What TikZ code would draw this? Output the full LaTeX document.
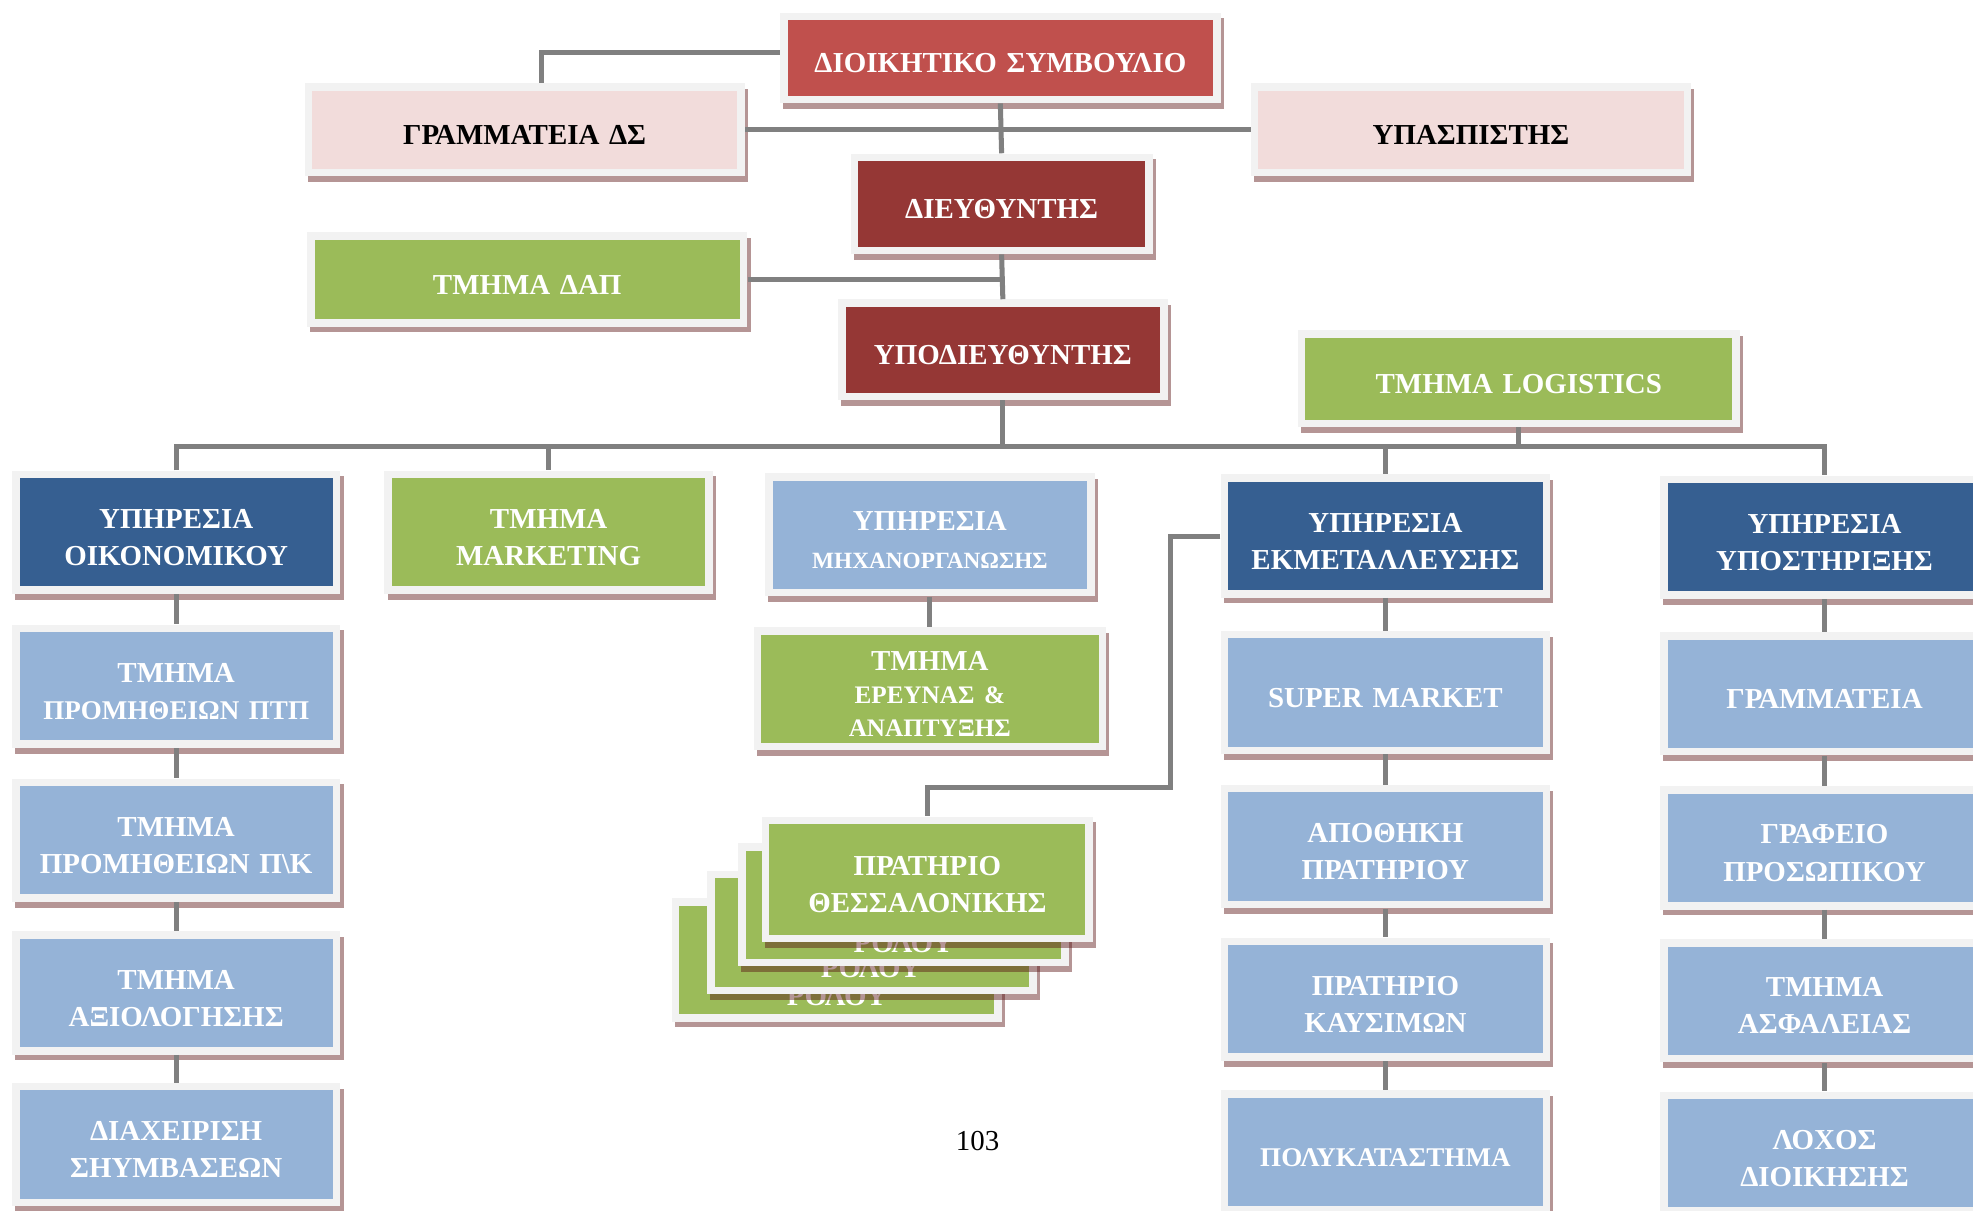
\documentclass[tikz,border=0pt]{standalone}
\usepackage{fontspec}
\setmainfont{Liberation Serif}
\usetikzlibrary{positioning,shadows}

\definecolor{framegray}{RGB}{242,242,242}
\definecolor{shadowred}{RGB}{90,20,20}
\definecolor{linegray}{RGB}{128,128,128}
\definecolor{boardred}{RGB}{192,80,77}
\definecolor{headred}{RGB}{149,55,53}
\definecolor{palepink}{RGB}{242,220,219}
\definecolor{deptgreen}{RGB}{155,187,89}
\definecolor{servblue}{RGB}{54,95,145}
\definecolor{unitblue}{RGB}{149,179,215}

\newcommand{\chartfont}{\fontsize{23}{29.5}\selectfont\bfseries}
\newcommand{\smallchart}{\fontsize{18.5}{24}\selectfont}

\tikzset{
  chart/.style={rectangle, fill=framegray, inner sep=0pt, align=center,
    font=\chartfont, text=white, text width=220pt,
    execute at begin node={\rule{0pt}{23.5pt}},
    drop shadow={shadow xshift=2.5pt, shadow yshift=-4.5pt, fill=shadowred, opacity=.45}},
  core/.style={path picture={\fill[#1]
      ([shift={(6pt,6pt)}]path picture bounding box.south west) rectangle
      ([shift={(-6pt,-6pt)}]path picture bounding box.north east);}},
  topbox/.style={chart, minimum width=350pt, minimum height=74pt, text width=330pt},
  unitbox/.style={chart, minimum width=261pt, minimum height=98pt, text width=245pt},
  rolou/.style={font=\chartfont, text=white, anchor=base, inner sep=0pt},
  link/.style={draw=linegray, line width=4pt},
}

\begin{document}
\begin{tikzpicture}[x=1pt,y=1pt]
  \useasboundingbox (0,0) rectangle (1568,-962);

  % top of the chart
  \node (board) [topbox, core=boardred, minimum height=72pt] at (795,-46)
        {ΔΙΟΙΚΗΤΙΚΟ ΣΥΜΒΟΥΛΙΟ};
  \node (secr) [topbox, core=palepink, text=black] at (417,-103)
        {ΓΡΑΜΜΑΤΕΙΑ ΔΣ};
  \node (aide) [topbox, core=palepink, text=black] at (1169,-103)
        {ΥΠΑΣΠΙΣΤΗΣ};
  \node (dir) [chart, core=headred, minimum width=240pt, minimum height=80pt] at (796,-162)
        {ΔΙΕΥΘΥΝΤΗΣ};
  \node (dap) [topbox, core=deptgreen, minimum height=75pt] at (419,-222)
        {ΤΜΗΜΑ ΔΑΠ};
  \node (vice) [chart, core=headred, minimum width=262pt, minimum height=80pt, text width=245pt] at (797,-278)
        {ΥΠΟΔΙΕΥΘΥΝΤΗΣ};
  \node (logi) [topbox, core=deptgreen, minimum width=351pt, minimum height=77pt] at (1207,-301)
        {ΤΜΗΜΑ LOGISTICS};

  % services
  \node (econ) [unitbox, core=servblue] at (140,-423)
        {ΥΠΗΡΕΣΙΑ\\ΟΙΚΟΝΟΜΙΚΟΥ};
  \node (mkt) [unitbox, core=deptgreen] at (436,-423)
        {ΤΜΗΜΑ\\MARKETING};
  \node (mech) [unitbox, core=unitblue, minimum width=262pt] at (739,-425)
        {ΥΠΗΡΕΣΙΑ\\{\smallchart ΜΗΧΑΝΟΡΓΑΝΩΣΗΣ}};
  \node (oper) [unitbox, core=servblue, minimum width=262pt] at (1101,-426)
        {ΥΠΗΡΕΣΙΑ\\ΕΚΜΕΤΑΛΛΕΥΣΗΣ};
  \node (supp) [unitbox, core=servblue] at (1450,-427)
        {ΥΠΗΡΕΣΙΑ\\ΥΠΟΣΤΗΡΙΞΗΣ};

  % finance column
  \node (ptp) [unitbox, core=unitblue, below=24pt of econ]
        {ΤΜΗΜΑ\\{\fontsize{21.5}{26}\selectfont ΠΡΟΜΗΘΕΙΩΝ ΠΤΠ}};
  \node (pk) [unitbox, core=unitblue, below=24pt of ptp]
        {ΤΜΗΜΑ\\ΠΡΟΜΗΘΕΙΩΝ Π\textbackslash Κ};
  \node (eval) [unitbox, core=unitblue, below=23pt of pk]
        {ΤΜΗΜΑ\\ΑΞΙΟΛΟΓΗΣΗΣ};
  \node (contr) [unitbox, core=unitblue, below=22pt of eval]
        {ΔΙΑΧΕΙΡΙΣΗ\\ΣΗΥΜΒΑΣΕΩΝ};

  % research
  \node (rnd) [unitbox, core=deptgreen, minimum width=280pt, below=24pt of mech,
        font=\fontsize{23}{26}\selectfont\bfseries]
        {ΤΜΗΜΑ\\{\fontsize{20}{24}\selectfont ΕΡΕΥΝΑΣ \&}\\{\fontsize{20}{24}\selectfont ΑΝΑΠΤΥΞΗΣ}};

  % operations column
  \node (smkt) [unitbox, core=unitblue, minimum width=262pt, below=26pt of oper]
        {SUPER MARKET};
  \node (store) [unitbox, core=unitblue, minimum width=262pt, below=24pt of smkt]
        {ΑΠΟΘΗΚΗ\\ΠΡΑΤΗΡΙΟΥ};
  \node (fuelst) [unitbox, core=unitblue, minimum width=262pt, below=23pt of store]
        {ΠΡΑΤΗΡΙΟ\\ΚΑΥΣΙΜΩΝ};
  \node (mall) [unitbox, core=unitblue, minimum width=262pt, below=23pt of fuelst,
        font=\fontsize{21.5}{26}\selectfont\bfseries]
        {ΠΟΛΥΚΑΤΑΣΤΗΜΑ};

  % support column
  \node (ssecr) [unitbox, core=unitblue, below=26pt of supp]
        {ΓΡΑΜΜΑΤΕΙΑ};
  \node (staff) [unitbox, core=unitblue, below=24pt of ssecr]
        {ΓΡΑΦΕΙΟ\\ΠΡΟΣΩΠΙΚΟΥ};
  \node (secu) [unitbox, core=unitblue, below=23pt of staff]
        {ΤΜΗΜΑ\\ΑΣΦΑΛΕΙΑΣ};
  \node (coy) [unitbox, core=unitblue, below=23pt of secu]
        {ΛΟΧΟΣ\\ΔΙΟΙΚΗΣΗΣ};

  % stack of stations
  \node (fueld) [unitbox, core=deptgreen, minimum width=262pt] at (665,-763) {};
  \node (rold) [rolou] at (665,-799) {ΡΟΛΟΥ};
  \node (fuelc) [unitbox, core=deptgreen, minimum width=262pt] at (693,-741) {};
  \node (rolc) [rolou] at (692,-777) {ΡΟΛΟΥ};
  \node (fuelb) [unitbox, core=deptgreen, minimum width=263pt] at (718,-719) {};
  \node (rolb) [rolou] at (718,-757) {ΡΟΛΟΥ};
  \node (fuel) [unitbox, core=deptgreen, minimum width=263pt, minimum height=100pt] at (737,-699)
        {ΠΡΑΤΗΡΙΟ\\ΘΕΣΣΑΛΟΝΙΚΗΣ};

  \node (page) [font=\fontsize{23}{28}\selectfont] at (777,-907) {103};

  % connectors
  \coordinate (bus) at (797,-355);
  \coordinate (turn) at (930,-626);

  \draw[link] ([yshift=4pt]board.west) -| ([xshift=13pt]secr.north);
  \draw[link] (secr.east) -- (aide.west);
  \draw[link] (board.south) -- (dir.north);
  \draw[link] (dap.east) -- (dap.east -| dir.south);
  \draw[link] (dir.south) -- (vice.north);
  \draw[link] (vice.south) -- (bus);
  \draw[link] (econ.north) |- (supp.north |- bus) -- (supp.north);
  \draw[link] (logi.south) -- (logi.south |- bus);
  \foreach \svc in {mkt,oper}
    \draw[link] (\svc.north |- bus) -- (\svc.north);
  \foreach \a/\b in {econ/ptp, ptp/pk, pk/eval, eval/contr, mech/rnd,
                     oper/smkt, smkt/store, store/fuelst, fuelst/mall,
                     supp/ssecr, ssecr/staff, staff/secu, secu/coy}
    \draw[link] (\a) -- (\b);
  \draw[link] (oper.west) -| (turn) -| (fuel.north);
\end{tikzpicture}
\end{document}
